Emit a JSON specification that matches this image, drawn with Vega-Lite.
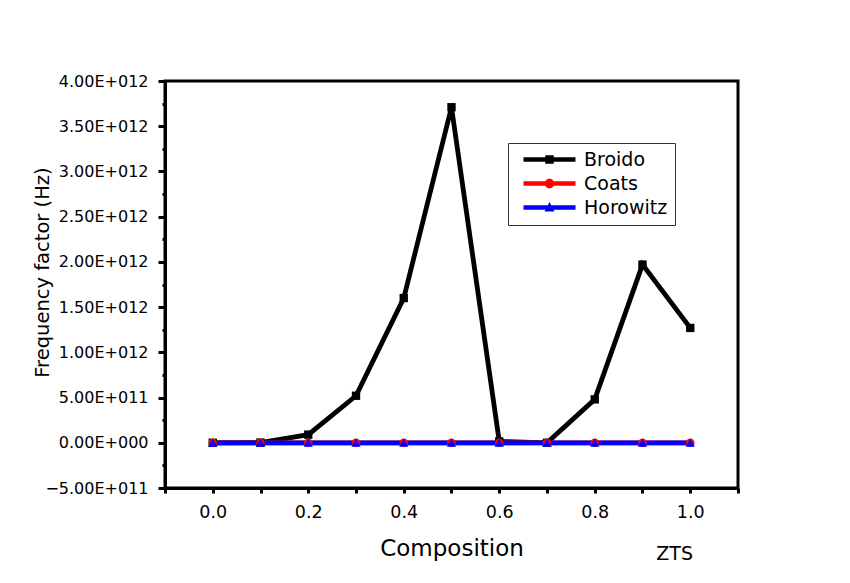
{
  "$schema": "https://vega.github.io/schema/vega-lite/v6.json",
  "width": 573,
  "height": 407,
  "autosize": {"type": "none"},
  "padding": {"left": 165, "top": 81, "right": 112, "bottom": 95},
  "background": "white",
  "config": {
    "view": {"stroke": "black", "strokeWidth": 3},
    "font": "DejaVu Sans"
  },
  "title": {
    "text": "ZTS",
    "orient": "bottom",
    "anchor": "end",
    "frame": "group",
    "font": "DejaVu Sans",
    "fontSize": 19,
    "fontWeight": "normal",
    "color": "black",
    "baseline": "alphabetic",
    "dx": -45,
    "offset": 0
  },
  "data": {
    "values": [
      {"composition": 0.0, "method": "Broido", "frequency_factor": 0},
      {"composition": 0.1, "method": "Broido", "frequency_factor": 2e9},
      {"composition": 0.2, "method": "Broido", "frequency_factor": 9e10},
      {"composition": 0.3, "method": "Broido", "frequency_factor": 5.2e11},
      {"composition": 0.4, "method": "Broido", "frequency_factor": 1.6e12},
      {"composition": 0.5, "method": "Broido", "frequency_factor": 3.71e12},
      {"composition": 0.6, "method": "Broido", "frequency_factor": 1.5e10},
      {"composition": 0.7, "method": "Broido", "frequency_factor": 0},
      {"composition": 0.8, "method": "Broido", "frequency_factor": 4.8e11},
      {"composition": 0.9, "method": "Broido", "frequency_factor": 1.97e12},
      {"composition": 1.0, "method": "Broido", "frequency_factor": 1.27e12},
      {"composition": 0.0, "method": "Coats", "frequency_factor": 0},
      {"composition": 0.1, "method": "Coats", "frequency_factor": 0},
      {"composition": 0.2, "method": "Coats", "frequency_factor": 0},
      {"composition": 0.3, "method": "Coats", "frequency_factor": 0},
      {"composition": 0.4, "method": "Coats", "frequency_factor": 0},
      {"composition": 0.5, "method": "Coats", "frequency_factor": 0},
      {"composition": 0.6, "method": "Coats", "frequency_factor": 0},
      {"composition": 0.7, "method": "Coats", "frequency_factor": 0},
      {"composition": 0.8, "method": "Coats", "frequency_factor": 0},
      {"composition": 0.9, "method": "Coats", "frequency_factor": 0},
      {"composition": 1.0, "method": "Coats", "frequency_factor": 0},
      {"composition": 0.0, "method": "Horowitz", "frequency_factor": 0},
      {"composition": 0.1, "method": "Horowitz", "frequency_factor": 0},
      {"composition": 0.2, "method": "Horowitz", "frequency_factor": 0},
      {"composition": 0.3, "method": "Horowitz", "frequency_factor": 0},
      {"composition": 0.4, "method": "Horowitz", "frequency_factor": 0},
      {"composition": 0.5, "method": "Horowitz", "frequency_factor": 0},
      {"composition": 0.6, "method": "Horowitz", "frequency_factor": 0},
      {"composition": 0.7, "method": "Horowitz", "frequency_factor": 0},
      {"composition": 0.8, "method": "Horowitz", "frequency_factor": 0},
      {"composition": 0.9, "method": "Horowitz", "frequency_factor": 0},
      {"composition": 1.0, "method": "Horowitz", "frequency_factor": 0}
    ]
  },
  "encoding": {
    "x": {
      "field": "composition",
      "type": "quantitative",
      "scale": {"domain": [-0.1, 1.1], "nice": false, "zero": false},
      "axis": {
        "title": "Composition",
        "values": [-0.1, 0, 0.1, 0.2, 0.3, 0.4, 0.5, 0.6, 0.7, 0.8, 0.9, 1.0, 1.1],
        "labelExpr": "(datum.value < -0.01 || datum.value > 1.01 || round(datum.value * 10) % 2 != 0) ? '' : format(datum.value, '.1f')",
        "grid": false,
        "domainColor": "black",
        "domainWidth": 3,
        "tickColor": "black",
        "tickWidth": 3,
        "tickSize": 5,
        "labelFont": "DejaVu Sans",
        "labelFontSize": 17.5,
        "labelColor": "black",
        "labelPadding": 10,
        "labelOverlap": false,
        "labelFlush": false,
        "titleFont": "DejaVu Sans",
        "titleFontSize": 23,
        "titleFontWeight": "normal",
        "titleColor": "black",
        "titleBaseline": "alphabetic",
        "titleY": 67
      }
    },
    "y": {
      "field": "frequency_factor",
      "type": "quantitative",
      "scale": {"domain": [-5e11, 4e12], "nice": false, "zero": false},
      "axis": {
        "title": "Frequency factor (Hz)",
        "values": [-5e11, -2.5e11, 0, 2.5e11, 5e11, 7.5e11, 1e12, 1.25e12, 1.5e12, 1.75e12, 2e12, 2.25e12, 2.5e12, 2.75e12, 3e12, 3.25e12, 3.5e12, 3.75e12, 4e12],
        "labelExpr": "datum.value % 5e11 != 0 ? '' : (datum.value == 0 ? '0.00E+000' : replace(format(datum.value, '.2e'), 'e+', 'E+0'))",
        "grid": false,
        "domainColor": "black",
        "domainWidth": 3,
        "tickColor": "black",
        "tickWidth": 3,
        "tickSize": {"condition": {"test": "datum.value % 5e11 != 0", "value": 3}, "value": 7},
        "labelFont": "DejaVu Sans",
        "labelFontSize": 16,
        "labelColor": "black",
        "labelPadding": 10,
        "labelOverlap": false,
        "labelFlush": false,
        "titleFont": "DejaVu Sans",
        "titleFontSize": 19.5,
        "titleFontWeight": "normal",
        "titleColor": "black",
        "titleAngle": -90,
        "titleAlign": "center",
        "titleBaseline": "alphabetic",
        "titleX": -117,
        "titleY": 191
      }
    },
    "color": {
      "field": "method",
      "type": "nominal",
      "scale": {"domain": ["Broido", "Coats", "Horowitz"], "range": ["black", "red", "blue"]},
      "legend": {
        "title": null,
        "orient": "none",
        "legendX": 343,
        "legendY": 62,
        "padding": 7,
        "strokeColor": "#333333",
        "symbolSize": 100,
        "symbolStrokeWidth": 0,
        "symbolOffset": 25,
        "rowPadding": 4,
        "labelFont": "DejaVu Sans",
        "labelFontSize": 19,
        "labelColor": "black",
        "labelOffset": 25,
        "labelExpr": "datum.label == 'Broido' ? '\u00a0Broido' : datum.label",
        "encode": {
          "symbols": {
            "update": {
              "shape": {"signal": "datum.value == 'Broido' ? 'M-5.2,-0.46H5.2V0.46H-5.2Z M-0.85,-0.85H0.85V0.85H-0.85Z' : (datum.value == 'Coats' ? 'M-5.2,-0.46H5.2V0.46H-5.2Z M0.95,0A0.95,0.95 0 1,1 -0.95,0A0.95,0.95 0 1,1 0.95,0Z' : 'M-5.2,-0.46H5.2V0.46H-5.2Z M0,-1.1L1.0,0.78L-1.0,0.78Z')"},
              "fill": {"signal": "scale('color', datum.value)"},
              "stroke": {"value": "transparent"},
              "strokeWidth": {"value": 0},
              "opacity": {"value": 1}
            }
          }
        }
      }
    }
  },
  "layer": [
    {"mark": {"type": "line", "strokeWidth": 4.8}},
    {
      "transform": [{"filter": "datum.method == 'Broido'"}],
      "mark": {"type": "point", "shape": "square", "filled": true, "opacity": 1, "size": 70}
    },
    {
      "transform": [{"filter": "datum.method == 'Coats'"}],
      "mark": {"type": "point", "shape": "circle", "filled": true, "opacity": 1, "size": 75}
    },
    {
      "transform": [{"filter": "datum.method == 'Horowitz'"}],
      "mark": {"type": "point", "shape": "triangle-up", "filled": true, "opacity": 1, "size": 85}
    }
  ]
}
